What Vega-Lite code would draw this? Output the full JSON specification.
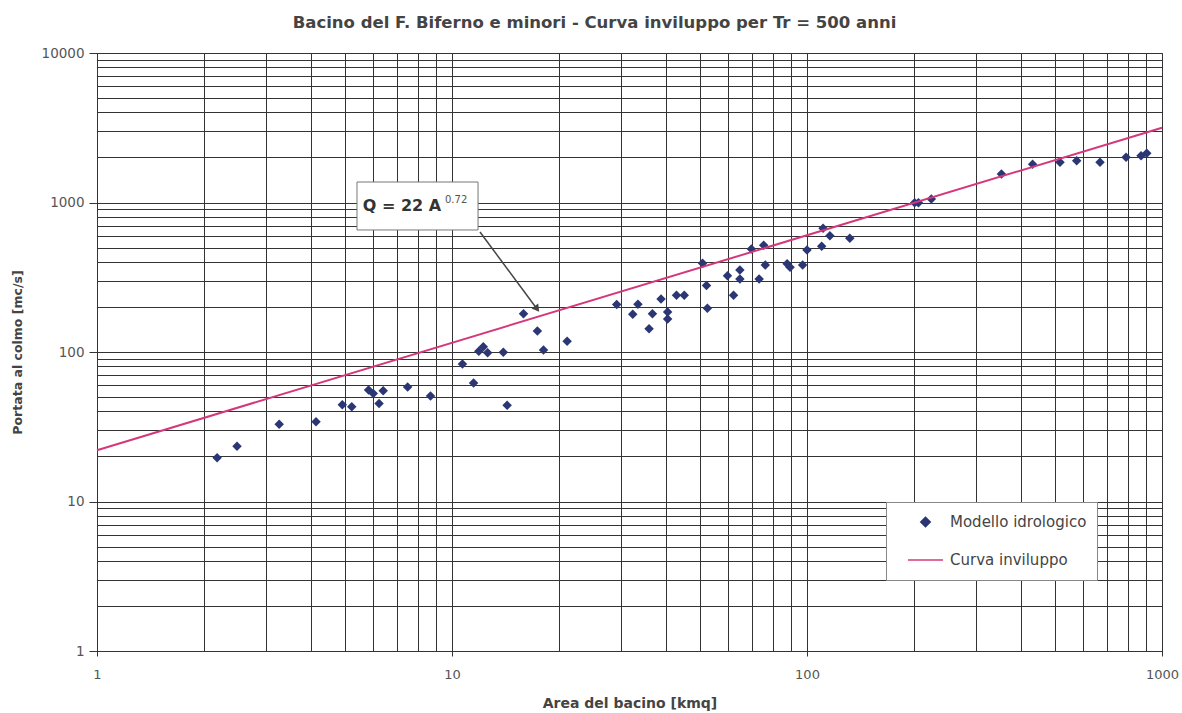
{
  "$schema": "https://vega.github.io/schema/vega-lite/v6.json",
  "width": 1065,
  "height": 598,
  "autosize": "none",
  "padding": {"left": 97, "top": 53, "right": 20, "bottom": 62},
  "background": "white",
  "config": {
    "view": {"stroke": "#333", "strokeWidth": 1},
    "font": "DejaVu Sans"
  },
  "title": {
    "text": "Bacino del F. Biferno e minori - Curva inviluppo per Tr = 500 anni",
    "font": "DejaVu Sans",
    "fontSize": 16.5,
    "fontWeight": "bold",
    "color": "#444",
    "offset": 15,
    "dx": -35
  },
  "datasets": {
    "points": [
      {"A": 2.18, "Q": 19.6, "serie": "Modello idrologico"},
      {"A": 2.48, "Q": 23.4, "serie": "Modello idrologico"},
      {"A": 3.26, "Q": 32.9, "serie": "Modello idrologico"},
      {"A": 4.14, "Q": 34.2, "serie": "Modello idrologico"},
      {"A": 4.91, "Q": 44.4, "serie": "Modello idrologico"},
      {"A": 5.22, "Q": 43.0, "serie": "Modello idrologico"},
      {"A": 5.82, "Q": 55.7, "serie": "Modello idrologico"},
      {"A": 6.0, "Q": 52.7, "serie": "Modello idrologico"},
      {"A": 6.23, "Q": 45.3, "serie": "Modello idrologico"},
      {"A": 6.4, "Q": 55.0, "serie": "Modello idrologico"},
      {"A": 7.5, "Q": 58.4, "serie": "Modello idrologico"},
      {"A": 8.7, "Q": 50.8, "serie": "Modello idrologico"},
      {"A": 10.7, "Q": 83, "serie": "Modello idrologico"},
      {"A": 11.5, "Q": 62, "serie": "Modello idrologico"},
      {"A": 11.9, "Q": 101, "serie": "Modello idrologico"},
      {"A": 12.25, "Q": 108.5, "serie": "Modello idrologico"},
      {"A": 12.6, "Q": 99, "serie": "Modello idrologico"},
      {"A": 13.95, "Q": 99.6, "serie": "Modello idrologico"},
      {"A": 14.3, "Q": 44, "serie": "Modello idrologico"},
      {"A": 15.9, "Q": 180, "serie": "Modello idrologico"},
      {"A": 17.4, "Q": 138, "serie": "Modello idrologico"},
      {"A": 18.1, "Q": 103, "serie": "Modello idrologico"},
      {"A": 21.1, "Q": 118, "serie": "Modello idrologico"},
      {"A": 29.1, "Q": 208, "serie": "Modello idrologico"},
      {"A": 32.3, "Q": 179, "serie": "Modello idrologico"},
      {"A": 33.4, "Q": 209, "serie": "Modello idrologico"},
      {"A": 35.9, "Q": 143, "serie": "Modello idrologico"},
      {"A": 36.7, "Q": 180, "serie": "Modello idrologico"},
      {"A": 38.8, "Q": 226, "serie": "Modello idrologico"},
      {"A": 40.5, "Q": 185, "serie": "Modello idrologico"},
      {"A": 40.5, "Q": 166, "serie": "Modello idrologico"},
      {"A": 42.9, "Q": 240, "serie": "Modello idrologico"},
      {"A": 45.1, "Q": 240, "serie": "Modello idrologico"},
      {"A": 50.8, "Q": 392, "serie": "Modello idrologico"},
      {"A": 52.1, "Q": 278, "serie": "Modello idrologico"},
      {"A": 52.4, "Q": 196, "serie": "Modello idrologico"},
      {"A": 59.7, "Q": 324, "serie": "Modello idrologico"},
      {"A": 62.1, "Q": 240, "serie": "Modello idrologico"},
      {"A": 64.7, "Q": 353, "serie": "Modello idrologico"},
      {"A": 64.7, "Q": 308, "serie": "Modello idrologico"},
      {"A": 69.7, "Q": 489, "serie": "Modello idrologico"},
      {"A": 73.3, "Q": 308, "serie": "Modello idrologico"},
      {"A": 75.5, "Q": 517, "serie": "Modello idrologico"},
      {"A": 76.3, "Q": 382, "serie": "Modello idrologico"},
      {"A": 87.9, "Q": 390, "serie": "Modello idrologico"},
      {"A": 89.6, "Q": 369, "serie": "Modello idrologico"},
      {"A": 97.2, "Q": 382, "serie": "Modello idrologico"},
      {"A": 100, "Q": 481, "serie": "Modello idrologico"},
      {"A": 110, "Q": 509, "serie": "Modello idrologico"},
      {"A": 111, "Q": 672, "serie": "Modello idrologico"},
      {"A": 116, "Q": 600, "serie": "Modello idrologico"},
      {"A": 132, "Q": 577, "serie": "Modello idrologico"},
      {"A": 201, "Q": 997, "serie": "Modello idrologico"},
      {"A": 206, "Q": 997, "serie": "Modello idrologico"},
      {"A": 224, "Q": 1057, "serie": "Modello idrologico"},
      {"A": 353, "Q": 1552, "serie": "Modello idrologico"},
      {"A": 432, "Q": 1803, "serie": "Modello idrologico"},
      {"A": 516, "Q": 1859, "serie": "Modello idrologico"},
      {"A": 575, "Q": 1905, "serie": "Modello idrologico"},
      {"A": 669, "Q": 1859, "serie": "Modello idrologico"},
      {"A": 792, "Q": 2005, "serie": "Modello idrologico"},
      {"A": 873, "Q": 2056, "serie": "Modello idrologico"},
      {"A": 906, "Q": 2133, "serie": "Modello idrologico"}
    ],
    "curve": [
      {"A": 1, "Q": 22, "serie": "Curva inviluppo"},
      {"A": 1000, "Q": 3165, "serie": "Curva inviluppo"}
    ],
    "box": [
      {"A1": 5.4, "A2": 11.84, "Q1": 655, "Q2": 1371}
    ],
    "label": [
      {"A": 7.23, "Q": 948, "testo": "Q = 22 A"}
    ],
    "esponente": [
      {"A": 10.27, "Q": 1040, "testo": "0.72"}
    ],
    "freccia": [
      {"A1": 11.99, "Q1": 635, "A2": 17.36, "Q2": 194}
    ],
    "punta": [
      {"A": 17.36, "Q": 194}
    ]
  },
  "layer": [
    {
      "data": {"name": "points"},
      "mark": {"type": "point", "filled": true, "opacity": 1, "size": 90},
      "encoding": {
        "x": {
          "field": "A",
          "type": "quantitative",
          "title": "Area del bacino [kmq]",
          "scale": {"type": "log", "domain": [1, 1000], "nice": false},
          "axis": {
            "values": [1, 2, 3, 4, 5, 6, 7, 8, 9, 10, 20, 30, 40, 50, 60, 70, 80, 90, 100, 200, 300, 400, 500, 600, 700, 800, 900, 1000],
            "format": "d",
            "labelExpr": "(datum.value == 1 || datum.value == 10 || datum.value == 100 || datum.value == 1000) ? datum.label : ''",
            "grid": true,
            "gridColor": "#333",
            "gridOpacity": 1,
            "gridWidth": 1,
            "domainColor": "#333",
            "tickColor": "#333",
            "tickSize": 5,
            "tickOpacity": {"condition": {"test": "datum.value == 1 || datum.value == 10 || datum.value == 100 || datum.value == 1000", "value": 1}, "value": 0},
            "labelPadding": 12,
            "labelFont": "DejaVu Sans",
            "labelFontSize": 13,
            "labelColor": "#555",
            "labelFlush": false,
            "labelOverlap": false,
            "titleFont": "DejaVu Sans",
            "titleFontSize": 14,
            "titleFontWeight": "bold",
            "titleColor": "#444",
            "titlePadding": 15
          }
        },
        "y": {
          "field": "Q",
          "type": "quantitative",
          "title": "Portata al colmo [mc/s]",
          "scale": {"type": "log", "domain": [1, 10000], "nice": false},
          "axis": {
            "values": [1, 2, 3, 4, 5, 6, 7, 8, 9, 10, 20, 30, 40, 50, 60, 70, 80, 90, 100, 200, 300, 400, 500, 600, 700, 800, 900, 1000, 2000, 3000, 4000, 5000, 6000, 7000, 8000, 9000, 10000],
            "format": "d",
            "labelExpr": "(datum.value == 1 || datum.value == 10 || datum.value == 100 || datum.value == 1000 || datum.value == 10000) ? datum.label : ''",
            "grid": true,
            "gridColor": "#333",
            "gridOpacity": 1,
            "gridWidth": 1,
            "domainColor": "#333",
            "tickColor": "#333",
            "tickSize": 8,
            "tickOpacity": {"condition": {"test": "datum.value == 1 || datum.value == 10 || datum.value == 100 || datum.value == 1000 || datum.value == 10000", "value": 1}, "value": 0},
            "labelPadding": 5,
            "labelFont": "DejaVu Sans",
            "labelFontSize": 13.5,
            "labelColor": "#555",
            "labelFlush": false,
            "labelOverlap": false,
            "titleFont": "DejaVu Sans",
            "titleFontSize": 12.5,
            "titleFontWeight": "bold",
            "titleColor": "#444",
            "titlePadding": 17
          }
        },
        "color": {
          "field": "serie",
          "type": "nominal",
          "scale": {"domain": ["Modello idrologico", "Curva inviluppo"], "range": ["#2b3674", "#d4387a"]},
          "legend": {
            "title": null,
            "orient": "none",
            "legendX": 789,
            "legendY": 449,
            "padding": 10,
            "fillColor": "white",
            "strokeColor": "#888",
            "symbolSize": 90,
            "symbolOffset": 22,
            "clipHeight": 20,
            "rowPadding": 18,
            "labelFont": "DejaVu Sans",
            "labelFontSize": 15,
            "labelColor": "#444",
            "labelOffset": 17,
            "encode": {
              "symbols": {
                "update": {
                  "stroke": {"scale": "color", "field": "value"},
                  "strokeWidth": {"signal": "datum.value === 'Curva inviluppo' ? 2 : 0"}
                }
              }
            }
          }
        },
        "shape": {
          "field": "serie",
          "type": "nominal",
          "scale": {"domain": ["Modello idrologico", "Curva inviluppo"], "range": ["diamond", "M-3.7,0L3.7,0"]},
          "legend": {
            "title": null,
            "orient": "none",
            "legendX": 789,
            "legendY": 449
          }
        }
      }
    },
    {
      "data": {"name": "curve"},
      "mark": {"type": "line", "strokeWidth": 2},
      "encoding": {
        "x": {"field": "A", "type": "quantitative"},
        "y": {"field": "Q", "type": "quantitative"},
        "color": {"field": "serie", "type": "nominal"}
      }
    },
    {
      "data": {"name": "freccia"},
      "mark": {"type": "rule", "color": "#444", "strokeWidth": 1.5},
      "encoding": {
        "x": {"field": "A1", "type": "quantitative"},
        "y": {"field": "Q1", "type": "quantitative"},
        "x2": {"field": "A2"},
        "y2": {"field": "Q2"}
      }
    },
    {
      "data": {"name": "punta"},
      "mark": {"type": "point", "shape": "triangle-up", "filled": true, "color": "#444", "opacity": 1, "size": 70, "angle": 143},
      "encoding": {
        "x": {"field": "A", "type": "quantitative"},
        "y": {"field": "Q", "type": "quantitative"}
      }
    },
    {
      "data": {"name": "box"},
      "mark": {"type": "rect", "fill": "white", "stroke": "#777", "strokeWidth": 1},
      "encoding": {
        "x": {"field": "A1", "type": "quantitative"},
        "x2": {"field": "A2"},
        "y": {"field": "Q1", "type": "quantitative"},
        "y2": {"field": "Q2"}
      }
    },
    {
      "data": {"name": "label"},
      "mark": {"type": "text", "font": "DejaVu Sans", "fontSize": 16, "fontWeight": "bold", "color": "#333", "align": "center", "baseline": "middle"},
      "encoding": {
        "x": {"field": "A", "type": "quantitative"},
        "y": {"field": "Q", "type": "quantitative"},
        "text": {"field": "testo"}
      }
    },
    {
      "data": {"name": "esponente"},
      "mark": {"type": "text", "font": "DejaVu Sans", "fontSize": 10, "color": "#555", "align": "center", "baseline": "middle"},
      "encoding": {
        "x": {"field": "A", "type": "quantitative"},
        "y": {"field": "Q", "type": "quantitative"},
        "text": {"field": "testo"}
      }
    }
  ]
}
